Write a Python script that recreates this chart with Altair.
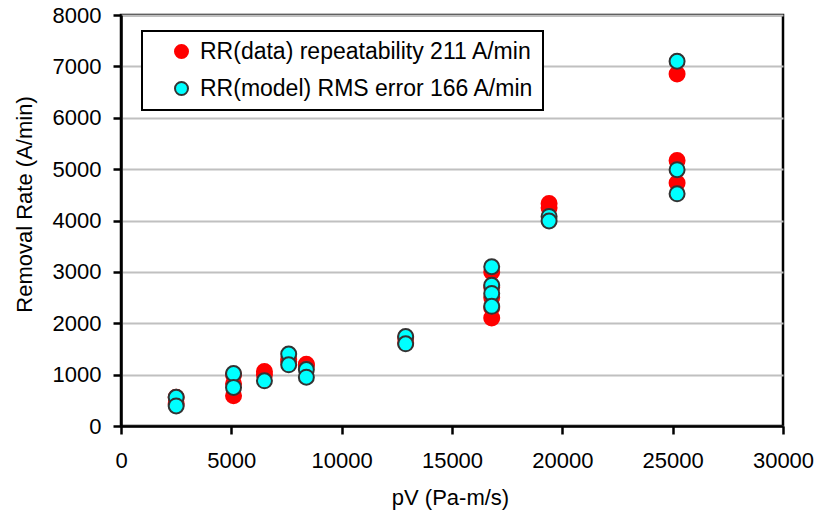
import altair as alt
import pandas as pd

# Values
series_names = ["RR(data) repeatability 211 A/min", "RR(model) RMS error 166 A/min"]

data_pv = [2500, 2500,
           5100, 5100, 5100,
           6500, 6500,
           7600, 7600,
           8400, 8400,
           12900, 12900,
           16800, 16800, 16800, 16800, 16800,
           19400, 19400,
           25200, 25200, 25200]
data_rr = [560, 430,
           1000, 820, 590,
           1060, 1000,
           1250, 1300,
           1200, 1180,
           1720, 1620,
           3000, 2700, 2500, 2300, 2100,
           4330, 4250,
           6850, 5170, 4730]

model_pv = [2500, 2500,
            5100, 5100,
            6500,
            7600, 7600,
            8400, 8400,
            12900, 12900,
            16800, 16800, 16800, 16800,
            19400, 19400,
            25200, 25200, 25200]
model_rr = [560, 390,
            1020, 750,
            880,
            1400, 1190,
            1100, 950,
            1740, 1600,
            3100, 2740, 2580, 2330,
            4080, 3990,
            7100, 4990, 4520]

x_ticks = [0, 5000, 10000, 15000, 20000, 25000, 30000]
y_ticks = [0, 1000, 2000, 3000, 4000, 5000, 6000, 7000, 8000]

df = pd.concat([
    pd.DataFrame({"pV": data_pv, "RR": data_rr, "series": series_names[0]}),
    pd.DataFrame({"pV": model_pv, "RR": model_rr, "series": series_names[1]}),
], ignore_index=True)

FONT = "Liberation Sans"

legend = alt.Legend(
    title=None,
    orient="none",
    legendX=21,
    legendY=16,
    strokeColor="black",
    fillColor="white",
    padding=9,
    symbolOffset=19,
    labelOffset=7,
    rowPadding=13,
    labelFontSize=23,
    labelFont=FONT,
    labelColor="black",
    symbolType="circle",
    symbolSize=169,
    symbolStrokeWidth=2,
    labelLimit=600,
)

chart = alt.Chart(df).mark_circle(size=225, strokeWidth=2, opacity=1).encode(
    x=alt.X("pV:Q",
            scale=alt.Scale(domain=[0, 30000], nice=False),
            axis=alt.Axis(title="pV (Pa-m/s)", values=x_ticks, format="d", grid=False,
                          titleX=329, titleY=71, titleBaseline="middle", titleAlign="center",
                          labelPadding=16, labelFlush=False, labelOverlap=False)),
    y=alt.Y("RR:Q",
            scale=alt.Scale(domain=[0, 8000], nice=False),
            axis=alt.Axis(title="Removal Rate (A/min)", values=y_ticks, format="d", grid=True,
                          titleX=-97, titleY=189, titleBaseline="middle", titleAlign="center",
                          titleAngle=-90, labelPadding=12, labelFlush=False, labelOverlap=False)),
    fill=alt.Fill("series:N", scale=alt.Scale(domain=series_names, range=["#ff0000", "#00ffff"]),
                  legend=legend),
    stroke=alt.Stroke("series:N", scale=alt.Scale(domain=series_names, range=["#ff0000", "#333333"]),
                      legend=legend),
    order=alt.Order("order:Q"),
).transform_calculate(
    order="datum.series == '" + series_names[0] + "' ? 0 : 1"
).properties(
    width=662,
    height=411,
    autosize=alt.AutoSizeParams(type="none"),
    padding={"left": 121, "top": 15, "right": 36, "bottom": 92},
    background="white",
).configure_view(
    stroke="black",
    strokeWidth=2.5,
).configure_axis(
    domainColor="black",
    domainWidth=2.5,
    tickColor="black",
    tickWidth=2.5,
    tickSize=8,
    labelFont=FONT,
    labelFontSize=22,
    labelColor="black",
    titleFont=FONT,
    titleFontSize=22,
    titleFontWeight="normal",
    titleColor="black",
    gridColor="#c0c0c0",
    gridWidth=2,
).configure_legend(
    strokeWidth=2,
)

chart.save("out.html", embed_options={"renderer": "svg", "actions": False})
